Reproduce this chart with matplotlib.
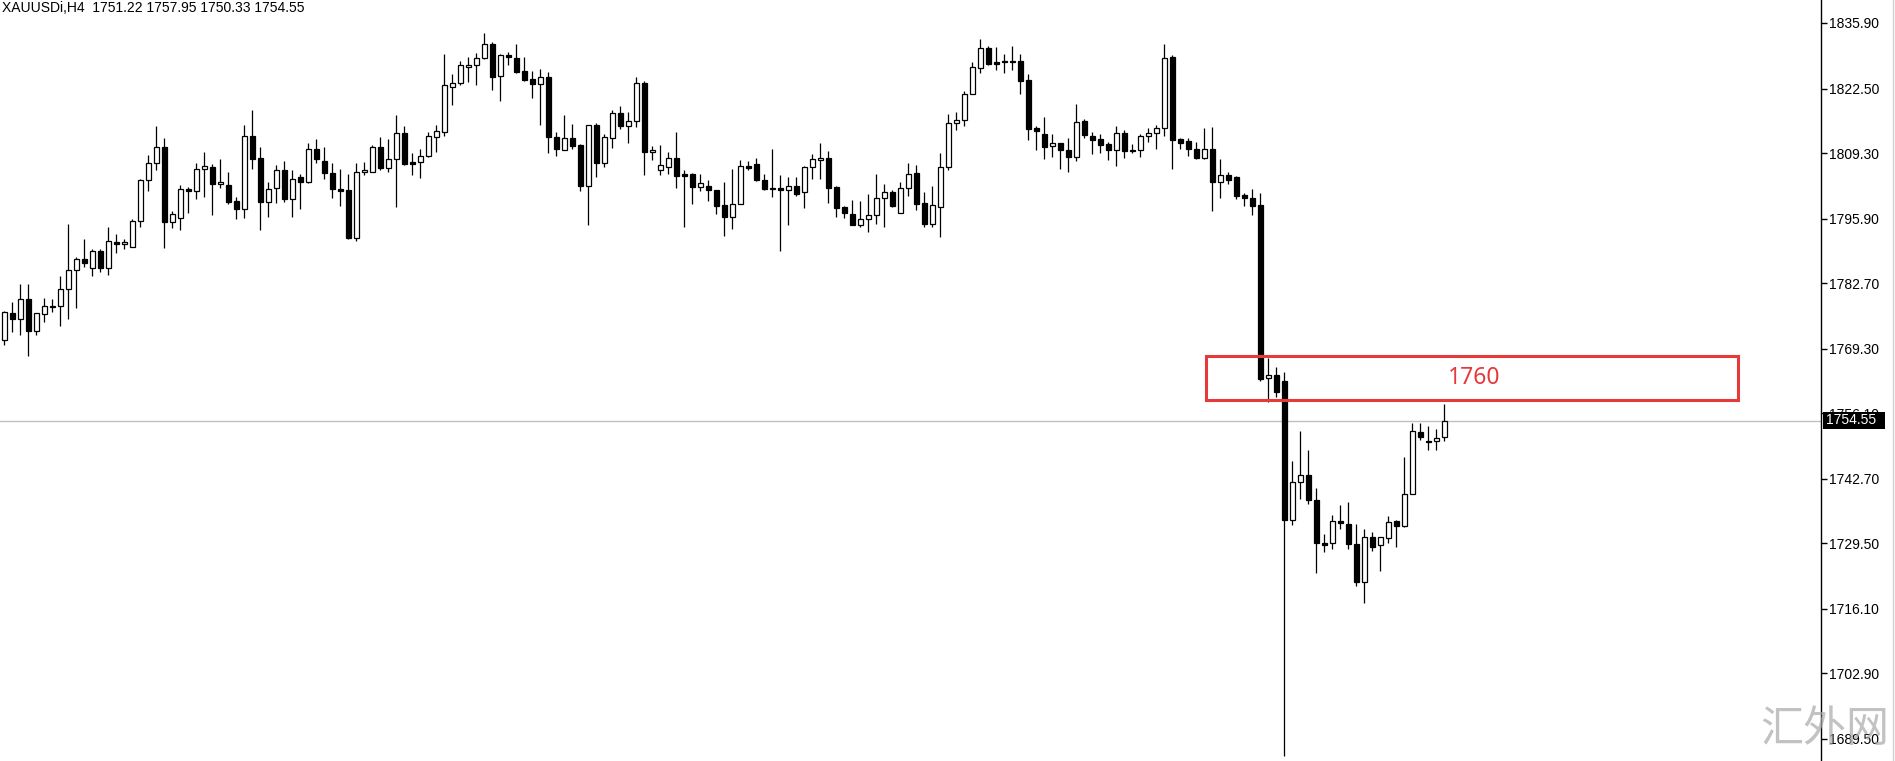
import matplotlib
matplotlib.use("Agg")
import matplotlib.pyplot as plt
from matplotlib.patches import Rectangle
from matplotlib.lines import Line2D
import numpy as np

symbol_title = "XAUUSDi,H4  1751.22 1757.95 1750.33 1754.55"

opens = [1771.1,1776.7,1775.4,1779.5,1772.9,1776.3,1778.0,1778.0,1781.6,1785.3,
         1787.7,1785.9,1789.2,1785.9,1791.1,1790.8,1790.0,1795.4,1803.7,1807.2,
         1810.5,1795.3,1796.1,1802.0,1801.6,1806.1,1806.4,1802.9,1802.7,1799.5,
         1797.8,1812.8,1808.2,1799.3,1802.2,1805.9,1799.9,1804.4,1803.3,1810.2,
         1807.6,1805.3,1802.0,1801.7,1791.9,1805.5,1805.5,1810.5,1806.3,1808.0,
         1813.5,1807.4,1807.5,1808.7,1812.6,1813.7,1822.9,1823.6,1826.8,1827.4,
         1828.7,1831.7,1825.0,1829.4,1828.7,1826.1,1824.4,1823.5,1824.8,1812.5,
         1810.0,1812.3,1810.9,1802.6,1815.0,1807.3,1812.3,1817.4,1814.8,1815.8,
         1823.6,1809.6,1805.9,1806.5,1808.2,1805.0,1805.0,1802.4,1802.5,1801.8,
         1798.6,1796.2,1798.8,1806.6,1807.0,1803.7,1802.2,1802.2,1801.8,1802.5,
         1801.4,1806.4,1807.8,1808.2,1802.3,1798.2,1796.9,1794.6,1795.8,1796.7,
         1800.2,1801.4,1797.1,1802.2,1805.3,1799.0,1794.8,1798.3,1806.5,1815.4,
         1816.0,1821.3,1826.6,1830.7,1827.9,1828.1,1827.9,1828.1,1824.2,1814.4,
         1813.3,1810.8,1811.3,1810.0,1808.5,1815.8,1812.8,1812.1,1811.1,1810.0,
         1813.5,1810.0,1810.0,1812.8,1813.5,1814.5,1828.9,1812.2,1811.7,1810.2,
         1808.3,1810.2,1803.4,1804.8,1804.4,1800.7,1800.2,1798.6,1763.3,1764.0,
         1762.6,1734.3,1742.1,1743.5,1738.4,1729.6,1729.5,1734.1,1733.5,1729.4,
         1721.5,1730.9,1729.2,1730.5,1734.1,1733.0,1739.5,1752.2,1750.5,1750.4,
         1751.22]
highs = [1777.1,1778.9,1782.6,1782.6,1776.7,1779.7,1779.4,1784.1,1794.7,1788.1,
         1791.7,1789.6,1789.6,1794.1,1792.8,1791.7,1795.9,1804.0,1808.9,1814.8,
         1812.4,1797.5,1802.7,1802.4,1807.3,1809.5,1807.0,1808.1,1805.4,1800.3,
         1815.0,1818.1,1810.5,1803.4,1806.8,1807.6,1805.8,1805.0,1811.3,1812.1,
         1810.5,1807.3,1806.0,1805.0,1807.2,1807.4,1810.9,1812.6,1812.2,1817.1,
         1814.8,1809.4,1810.2,1813.6,1815.0,1829.6,1825.5,1828.1,1828.9,1829.7,
         1833.8,1832.1,1829.6,1829.9,1831.7,1828.9,1826.1,1826.4,1825.9,1813.7,
         1817.1,1815.2,1811.1,1815.1,1815.4,1813.1,1818.1,1818.9,1817.7,1824.8,
         1824.0,1810.7,1810.9,1809.5,1813.6,1805.8,1805.3,1805.1,1803.7,1801.8,
         1803.4,1806.0,1807.9,1807.6,1808.3,1805.0,1810.1,1804.8,1804.4,1804.4,
         1806.7,1809.1,1811.3,1809.7,1802.5,1798.4,1799.7,1799.5,1801.0,1805.0,
         1803.0,1801.8,1803.3,1807.2,1806.8,1801.3,1802.5,1809.4,1817.3,1817.8,
         1822.0,1827.9,1832.6,1831.2,1830.9,1829.5,1831.2,1829.5,1825.5,1814.8,
         1816.7,1813.1,1811.3,1812.4,1819.3,1816.2,1813.7,1813.3,1811.6,1814.8,
         1814.1,1811.1,1813.1,1814.5,1815.0,1831.6,1829.4,1812.4,1812.4,1811.5,
         1814.4,1814.6,1808.1,1805.4,1804.6,1801.2,1801.9,1801.2,1767.4,1765.5,
         1764.5,1746.4,1752.4,1748.5,1740.8,1731.4,1735.4,1737.4,1738.0,1733.5,
         1732.4,1731.9,1730.9,1735.0,1734.3,1747.2,1754.2,1754.1,1753.4,1752.9,
         1757.95]
lows = [1770.0,1772.7,1772.2,1767.9,1772.2,1774.8,1776.8,1773.9,1775.4,1777.7,
        1786.0,1784.1,1785.0,1784.3,1788.9,1789.6,1790.0,1794.2,1801.6,1805.8,
        1789.8,1793.9,1793.5,1797.1,1799.9,1800.3,1796.6,1802.2,1798.8,1795.8,
        1796.1,1806.1,1793.5,1796.2,1799.0,1799.3,1796.2,1797.8,1803.2,1807.3,
        1804.1,1800.1,1798.5,1791.7,1791.3,1804.8,1805.5,1805.8,1805.4,1798.3,
        1806.8,1804.8,1804.2,1808.4,1809.5,1812.8,1819.1,1823.3,1823.8,1823.2,
        1828.6,1822.1,1820.0,1827.4,1825.7,1824.0,1820.6,1815.0,1809.4,1808.7,
        1810.0,1810.2,1801.5,1794.5,1804.4,1806.5,1810.4,1814.3,1811.4,1814.7,
        1804.8,1807.9,1804.8,1805.0,1802.2,1794.2,1798.9,1801.6,1799.4,1796.8,
        1792.3,1793.7,1798.8,1805.8,1803.6,1801.7,1800.3,1789.3,1794.5,1800.5,
        1798.1,1804.0,1804.1,1799.0,1796.2,1796.0,1794.6,1794.2,1793.2,1794.8,
        1794.1,1798.2,1797.1,1800.5,1797.6,1794.2,1794.2,1792.2,1805.8,1814.0,
        1814.8,1821.3,1825.6,1827.3,1826.3,1825.6,1826.3,1821.4,1811.9,1809.9,
        1808.1,1808.4,1806.0,1805.4,1807.7,1812.4,1809.1,1809.4,1807.9,1806.6,
        1808.3,1809.4,1808.5,1811.6,1810.2,1812.8,1806.0,1810.2,1808.7,1808.0,
        1808.1,1797.5,1800.1,1802.9,1799.9,1798.5,1796.7,1762.8,1758.4,1759.4,
        1686.0,1733.2,1738.6,1737.5,1723.4,1727.7,1728.3,1732.4,1728.3,1720.7,
        1717.4,1727.9,1723.8,1729.5,1728.7,1732.8,1739.5,1750.7,1748.5,1748.5,
        1750.33]
closes = [1776.8,1775.4,1779.5,1772.9,1776.5,1778.0,1777.8,1781.6,1785.3,1787.7,
          1786.9,1789.2,1785.9,1791.3,1790.8,1791.1,1795.4,1803.8,1807.2,1810.5,
          1795.3,1796.9,1802.0,1801.6,1806.1,1806.6,1802.9,1803.4,1799.3,1797.8,
          1812.8,1808.1,1799.3,1802.0,1805.9,1799.9,1804.1,1803.4,1810.2,1808.0,
          1805.3,1802.0,1801.6,1791.9,1805.5,1805.8,1810.5,1806.3,1808.0,1813.5,
          1807.1,1807.1,1808.7,1812.8,1813.8,1823.2,1823.6,1827.3,1827.4,1828.7,
          1831.7,1824.9,1829.4,1829.0,1825.9,1824.2,1823.5,1824.8,1812.5,1810.2,
          1812.3,1810.7,1802.6,1815.0,1807.3,1812.5,1817.4,1814.8,1815.8,1823.6,
          1809.6,1810.0,1806.8,1808.2,1804.6,1804.6,1802.4,1803.1,1801.7,1798.5,
          1796.2,1798.8,1806.6,1806.3,1803.8,1801.9,1801.9,1801.7,1802.5,1801.0,
          1806.4,1808.0,1808.2,1802.2,1798.1,1797.1,1794.6,1795.9,1796.7,1800.2,
          1801.4,1798.4,1802.2,1805.1,1798.8,1794.8,1798.6,1806.4,1815.4,1816.0,
          1821.3,1826.8,1830.7,1827.5,1827.6,1827.9,1828.1,1824.0,1814.3,1813.9,
          1810.6,1811.3,1810.0,1808.5,1815.6,1813.0,1812.0,1811.0,1810.0,1813.5,
          1809.8,1809.7,1812.8,1813.5,1814.5,1828.7,1811.9,1811.4,1810.2,1808.3,
          1810.2,1803.4,1804.8,1803.8,1800.5,1800.2,1798.5,1763.1,1764.0,1760.4,
          1734.3,1742.1,1743.5,1738.4,1729.5,1729.2,1734.1,1733.6,1729.3,1721.5,
          1730.9,1728.7,1730.7,1733.9,1733.0,1739.6,1752.5,1751.2,1750.2,1751.1,
          1754.55]

ytick_values = [1835.90, 1822.50, 1809.30, 1795.90, 1782.70, 1769.30,
                1756.10, 1742.70, 1729.50, 1716.10, 1702.90, 1689.50]
current_price = 1754.55
zone_low, zone_high = 1758.9, 1767.9
zone_label = "1760"
watermark = "汇外网"

W, H = 1895, 761
fig = plt.figure(figsize=(W / 100, H / 100), dpi=100)
axw = 1821 / W
ax = fig.add_axes([0, 0, axw, 1])
fig.patch.set_facecolor("white")
ax.set_facecolor("white")

o = np.array(opens); h = np.array(highs); l = np.array(lows); c = np.array(closes)
x = np.arange(len(o))
up = c > o

ax.vlines(x, l, h, color="black", linewidth=0.9, zorder=2)
bottoms = np.minimum(o, c)
heights = np.maximum(np.abs(c - o), 0.15)
colors = np.where(up, "white", "black")
ax.bar(x, heights, bottom=bottoms, width=0.56, color=colors,
       edgecolor="black", linewidth=0.9, zorder=3)

ax.set_xlim(-0.54, (1821 - 4.3) / 8)
ax.set_ylim(1685.0, 1840.6)

# current price line
ax.axhline(current_price, color="#c0c0c0", linewidth=1.0, zorder=1)

# red zone
rx0 = (1206 - 4.3) / 8
rx1 = (1738 - 4.3) / 8
ax.add_patch(Rectangle((rx0, zone_low), rx1 - rx0, zone_high - zone_low,
                       fill=False, edgecolor="#e5393b", linewidth=2.2, zorder=4))
ax.text((1474 - 4.3) / 8, (zone_low + zone_high) / 2, zone_label, color="#e5393b",
        fontsize=16.5, family="Noto Sans", ha="center", va="center", zorder=5)

# axes styling
for s in ["left", "top", "bottom"]:
    ax.spines[s].set_visible(False)
ax.spines["right"].set_color("black")
ax.spines["right"].set_linewidth(1.0)
ax.set_xticks([])
ax.yaxis.tick_right()
ax.set_yticks(ytick_values)
ax.set_yticklabels([f"{v:.2f}" for v in ytick_values])
ax.tick_params(axis="y", direction="out", length=4, width=1, pad=2,
               labelsize=10, colors="black")
for lab in ax.get_yticklabels():
    lab.set_family("Liberation Sans")

# title
fig.text(2 / W, 1 - 1.5 / H, symbol_title, fontsize=10, family="Liberation Sans",
         ha="left", va="top", color="black")

# current price box
py = 1 - 420.3 / H
fig.patches.append(Rectangle((1823 / W, 1 - 428.5 / H), 62 / W, 16.5 / H,
                             transform=fig.transFigure, facecolor="black",
                             edgecolor="none", zorder=10))
fig.text(1826 / W, py, f"{current_price:.2f}", color="white", fontsize=10,
         family="Liberation Sans", ha="left", va="center", zorder=11)

# right edge light line
fig.add_artist(Line2D([1893 / W, 1893 / W], [0, 1], color="#d0d0d0",
                      linewidth=1, transform=fig.transFigure))

# watermark
fig.text(1825 / W, 1 - 730 / H, watermark, fontsize=31, color="#a8a8a8", alpha=0.7,
         family=["Noto Sans CJK SC", "DejaVu Sans"], ha="center", va="center", zorder=12)

fig.savefig("out.png", dpi=100, facecolor="white")
